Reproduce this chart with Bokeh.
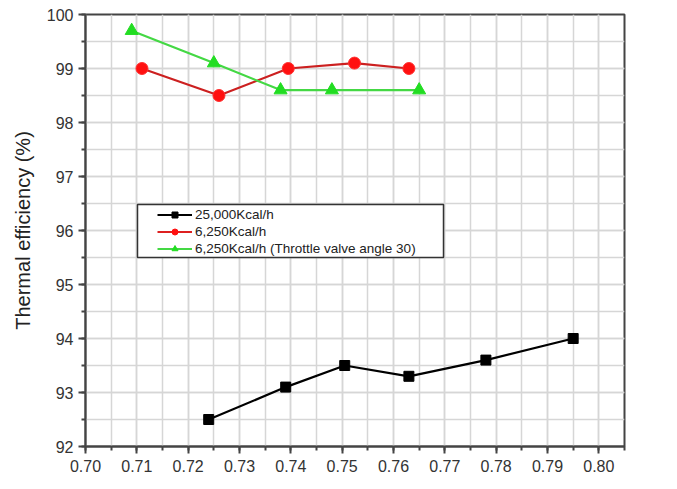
from bokeh.plotting import figure
from bokeh.models import (SingleIntervalTicker, PrintfTickFormatter, Range1d, Legend, LegendItem,
                          ColumnDataSource, BoxAnnotation)
from bokeh.embed import file_html
from bokeh.resources import INLINE

# data
x_black = [0.724, 0.739, 0.7505, 0.763, 0.778, 0.795]
y_black = [92.5, 93.1, 93.5, 93.3, 93.6, 94.0]
x_red = [0.711, 0.726, 0.7395, 0.7524, 0.763]
y_red = [99.0, 98.5, 99.0, 99.1, 99.0]
x_green = [0.709, 0.725, 0.738, 0.748, 0.765]
y_green = [99.7, 99.1, 98.6, 98.6, 98.6]
labels = ["25,000Kcal/h", "6,250Kcal/h", "6,250Kcal/h (Throttle valve angle 30)"]

FONT = "Liberation Sans"

p = figure(width=669, height=486, frame_width=539, frame_height=432,
           output_backend="svg", toolbar_location=None,
           x_range=Range1d(0.70, 0.805), y_range=Range1d(92, 100),
           min_border_left=85, min_border_top=14, min_border_right=45, min_border_bottom=40)
p.background_fill_color = "white"
p.border_fill_color = "white"
p.outline_line_color = "#444444"
p.outline_line_width = 2

p.xaxis.ticker = SingleIntervalTicker(interval=0.01, num_minor_ticks=2)
p.yaxis.ticker = SingleIntervalTicker(interval=1, num_minor_ticks=2)
p.xaxis.formatter = PrintfTickFormatter(format="%.2f")
p.yaxis.formatter = PrintfTickFormatter(format="%d")

for ax in (p.xaxis[0], p.yaxis[0]):
    ax.axis_line_color = "#444444"
    ax.axis_line_width = 2
    ax.major_tick_line_color = "#444444"
    ax.major_tick_line_width = 2
    ax.minor_tick_line_color = "#444444"
    ax.minor_tick_line_width = 2
    ax.major_tick_in = 0
    ax.major_tick_out = 7
    ax.minor_tick_in = 0
    ax.minor_tick_out = 4
    ax.major_label_text_font = FONT
    ax.major_label_text_font_size = "16px"
    ax.major_label_text_color = "#333333"
    ax.axis_label_text_font = FONT
    ax.axis_label_text_font_style = "normal"
    ax.axis_label_text_color = "#222222"

p.yaxis.axis_label = "Thermal efficiency (%)"
p.yaxis.axis_label_text_font_size = "20px"
p.yaxis.axis_label_standoff = 10
p.xaxis.major_label_standoff = 6
p.yaxis.major_label_standoff = 5

for g in (p.xgrid[0], p.ygrid[0]):
    g.grid_line_color = "#d6d6d6"
    g.grid_line_width = 1.5
    g.minor_grid_line_color = "#d6d6d6"
    g.minor_grid_line_width = 1.5

# series
p.line(x_black, y_black, line_color="black", line_width=2.2)
p.scatter(x_black, y_black, marker="square", size=10, fill_color="black", line_color="black")
p.line(x_red, y_red, line_color="#cc2020", line_width=2.2)
p.scatter(x_red, y_red, marker="circle", size=12, fill_color="#ff1010", line_color="#ff3030")
p.line(x_green, y_green, line_color="#44d844", line_width=2.2)
p.scatter(x_green, y_green, marker="triangle", size=13, fill_color="#22dd22", line_color="#22dd22")

# legend frame (screen units, from the frame's bottom-left)
box = BoxAnnotation(left=52, right=358, bottom=189, top=242,
                    left_units="screen", right_units="screen",
                    bottom_units="screen", top_units="screen",
                    fill_color="white", fill_alpha=1.0,
                    line_color="#333333", line_width=1.5, line_alpha=1.0)
p.add_layout(box)

# legend-only renderers (single point outside the visible ranges)
def hidden():
    return ColumnDataSource(dict(x=[0.0], y=[0.0]))

lb = p.line("x", "y", source=hidden(), line_color="black", line_width=2)
mb = p.scatter("x", "y", source=hidden(), marker="square", size=5, fill_color="black", line_color="black")
lr = p.line("x", "y", source=hidden(), line_color="#dd2020", line_width=2)
mr = p.scatter("x", "y", source=hidden(), marker="circle", size=5, fill_color="#ff1010", line_color="#ff1010")
lg = p.line("x", "y", source=hidden(), line_color="#44d844", line_width=2)
mg = p.scatter("x", "y", source=hidden(), marker="triangle", size=6, fill_color="#22dd22", line_color="#22dd22")

legend = Legend(items=[LegendItem(label=labels[0], renderers=[lb, mb]),
                       LegendItem(label=labels[1], renderers=[lr, mr]),
                       LegendItem(label=labels[2], renderers=[lg, mg])],
                location=(70, 188))
legend.label_text_font = FONT
legend.label_text_font_size = "13.5px"
legend.label_text_color = "#222222"
legend.label_height = 15
legend.glyph_height = 15
legend.glyph_width = 35
legend.label_standoff = 3
legend.spacing = 2
legend.padding = 2
legend.margin = 0
legend.border_line_alpha = 0
legend.background_fill_alpha = 0
p.add_layout(legend, "center")

open("out.html", "w").write(file_html(p, INLINE))
